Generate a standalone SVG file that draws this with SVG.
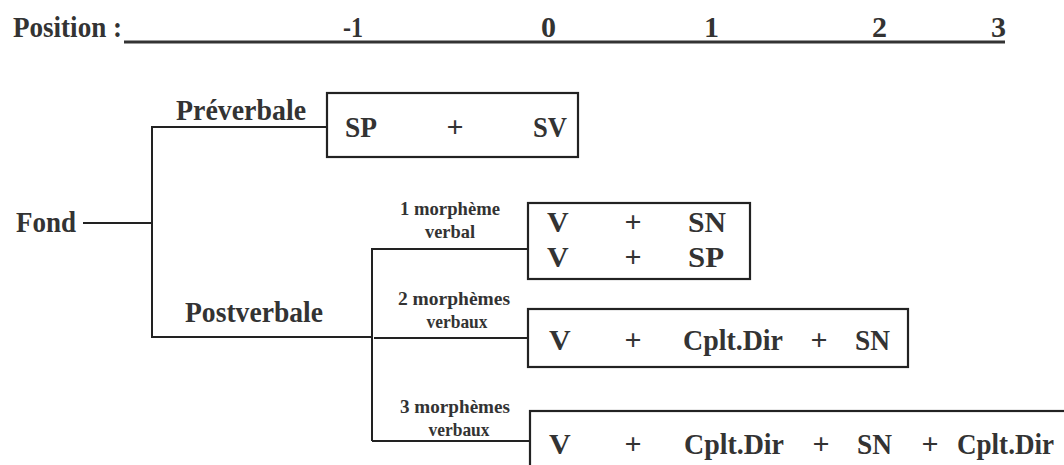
<svg xmlns="http://www.w3.org/2000/svg" width="1064" height="465" viewBox="0 0 1064 465">
<style>
text{font-family:'Liberation Serif','Times New Roman',Times,serif;font-weight:700;fill:#333}
.big{font-size:30px}
.sm{font-size:19px;text-anchor:middle}
.mid{text-anchor:middle}
.ln{stroke:#222;stroke-width:2;fill:none}
.box{stroke:#222;stroke-width:2.2;fill:#fff}
</style>
<rect width="1064" height="465" fill="#fff"/>
<g id="header">
<text class="big" x="13" y="37" textLength="109" lengthAdjust="spacingAndGlyphs">Position :</text>
<line x1="124" y1="42" x2="1005" y2="42" stroke="#333" stroke-width="3"/>
<text class="big" x="343" y="37" textLength="20" lengthAdjust="spacingAndGlyphs">-1</text>
<text class="big" x="541" y="37">0</text>
<text class="big" x="704" y="37">1</text>
<text class="big" x="872" y="37">2</text>
<text class="big" x="991" y="37">3</text>
</g>
<g id="connectors">
<path class="ln" d="M83,223 H152"/>
<path class="ln" d="M327,127 H152 V337 H371"/>
<path class="ln" d="M372,248 V441"/>
<path class="ln" d="M372,249 H528"/>
<path class="ln" d="M374,338 H528"/>
<path class="ln" d="M372,441 H530"/>
</g>
<g id="fond"><text class="big" x="16" y="232" textLength="60" lengthAdjust="spacingAndGlyphs">Fond</text></g>
<g id="preverbale"><text class="big" x="176" y="120" textLength="130" lengthAdjust="spacingAndGlyphs">Préverbale</text></g>
<g id="postverbale"><text class="big" x="185" y="322" textLength="138" lengthAdjust="spacingAndGlyphs">Postverbale</text></g>
<g id="label1"><text class="sm" x="450" y="215" textLength="100" lengthAdjust="spacingAndGlyphs">1 morphème</text><text class="sm" x="450" y="238" textLength="50" lengthAdjust="spacingAndGlyphs">verbal</text></g>
<g id="label2"><text class="sm" x="454" y="305" textLength="112" lengthAdjust="spacingAndGlyphs">2 morphèmes</text><text class="sm" x="457" y="328" textLength="61" lengthAdjust="spacingAndGlyphs">verbaux</text></g>
<g id="label3"><text class="sm" x="455" y="413" textLength="110" lengthAdjust="spacingAndGlyphs">3 morphèmes</text><text class="sm" x="459" y="436" textLength="61" lengthAdjust="spacingAndGlyphs">verbaux</text></g>
<g id="box-sp-sv">
<rect class="box" x="327" y="93" width="251" height="64"/>
<text class="big" x="345" y="137" textLength="32" lengthAdjust="spacingAndGlyphs">SP</text>
<text class="big mid" x="455" y="137">+</text>
<text class="big" x="533" y="137" textLength="34" lengthAdjust="spacingAndGlyphs">SV</text>
</g>
<g id="box-1morph">
<rect class="box" x="528" y="203" width="222" height="76"/>
<text class="big" x="547" y="232">V</text>
<text class="big mid" x="633" y="232">+</text>
<text class="big" x="688" y="232" textLength="38" lengthAdjust="spacingAndGlyphs">SN</text>
<text class="big" x="547" y="267">V</text>
<text class="big mid" x="633" y="267">+</text>
<text class="big" x="688" y="267" textLength="36" lengthAdjust="spacingAndGlyphs">SP</text>
</g>
<g id="box-2morph">
<rect class="box" x="528" y="309" width="380" height="58"/>
<text class="big" x="549" y="350">V</text>
<text class="big mid" x="633" y="350">+</text>
<text class="big" x="683" y="350" textLength="100" lengthAdjust="spacingAndGlyphs">Cplt.Dir</text>
<text class="big mid" x="819" y="350">+</text>
<text class="big" x="855" y="350" textLength="35" lengthAdjust="spacingAndGlyphs">SN</text>
</g>
<g id="box-3morph">
<rect class="box" x="530" y="411" width="600" height="100"/>
<text class="big" x="549" y="454">V</text>
<text class="big mid" x="633" y="454">+</text>
<text class="big" x="684" y="454" textLength="100" lengthAdjust="spacingAndGlyphs">Cplt.Dir</text>
<text class="big mid" x="821" y="454">+</text>
<text class="big" x="857" y="454" textLength="35" lengthAdjust="spacingAndGlyphs">SN</text>
<text class="big mid" x="930" y="454">+</text>
<text class="big" x="957" y="454" textLength="97" lengthAdjust="spacingAndGlyphs">Cplt.Dir</text>
</g>
</svg>
